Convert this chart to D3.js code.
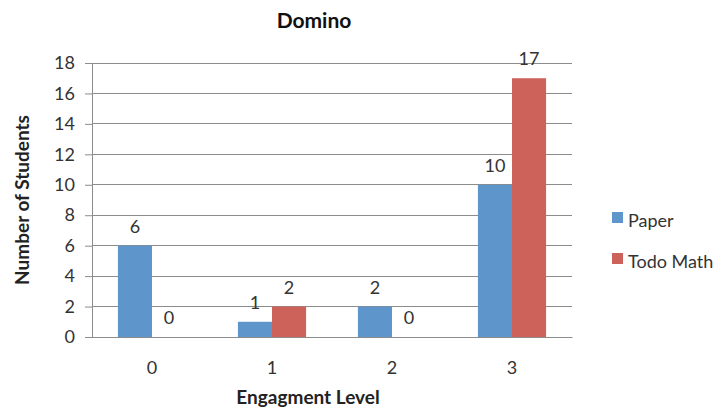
<!DOCTYPE html>
<html>
<head>
<meta charset="utf-8">
<script src="https://cdn.jsdelivr.net/npm/d3@7"></script>
<style>
  html, body { margin: 0; padding: 0; background: #fff; }
  svg text { font-family: Lato, "Open Sans", sans-serif; }
</style>
</head>
<body>
<svg id="chart" width="725" height="411"></svg>
<script>
// Engagement level counts for the Domino activity
const categories = ["0", "1", "2", "3"];
const seriesNames = ["Paper", "Todo Math"];
const paperValues = [6, 1, 2, 10];
const todoMathValues = [0, 2, 0, 17];
const yTicks = [0, 2, 4, 6, 8, 10, 12, 14, 16, 18];
const seriesColors = ["#5E95CB", "#CD625A"];

const svg = d3.select("#chart");
const margin = { left: 92, right: 153, top: 63, bottom: 74 };
const width = 725 - margin.left - margin.right;
const height = 411 - margin.top - margin.bottom;

const g = svg.append("g").attr("transform", `translate(${margin.left},${margin.top})`);

const x0 = d3.scaleBand().domain(categories).range([0, width]).paddingInner(0).paddingOuter(0);
const x1 = d3.scaleBand().domain(seriesNames).range([0, x0.bandwidth()]).paddingInner(0).paddingOuter(0.76);
const y = d3.scaleLinear().domain([0, 18]).range([height, 0]);

// gridlines
g.append("g")
  .selectAll("line")
  .data(yTicks.filter(d => d > 0))
  .join("line")
  .attr("x1", 0).attr("x2", width)
  .attr("y1", d => y(d)).attr("y2", d => y(d))
  .attr("stroke", "#8c8c8c").attr("stroke-width", 1)
  .attr("shape-rendering", "crispEdges");

// y axis
const yAxis = g.append("g")
  .call(d3.axisLeft(y).tickValues(yTicks).tickSize(7).tickPadding(10));
yAxis.select(".domain").attr("stroke", "#8c8c8c").attr("d", `M0.5,${height}V0`);
yAxis.selectAll(".tick line").attr("stroke", "#8c8c8c");
yAxis.selectAll(".tick text").attr("fill", "#333").style("font-size", "18px");

// x axis
const xAxis = g.append("g")
  .attr("transform", `translate(0,${height})`)
  .call(d3.axisBottom(x0).tickSize(0).tickPadding(24));
xAxis.select(".domain").attr("stroke", "#8c8c8c");
xAxis.selectAll(".tick text").attr("fill", "#333").style("font-size", "18px");

// bars
const rows = categories.map((c, i) => ({
  cat: c,
  vals: [
    { name: seriesNames[0], value: paperValues[i], color: seriesColors[0] },
    { name: seriesNames[1], value: todoMathValues[i], color: seriesColors[1] }
  ]
}));

const groups = g.append("g").selectAll("g")
  .data(rows)
  .join("g")
  .attr("transform", d => `translate(${x0(d.cat)},0)`);

groups.selectAll("rect")
  .data(d => d.vals)
  .join("rect")
  .attr("x", d => x1(d.name))
  .attr("y", d => y(d.value))
  .attr("width", x1.bandwidth())
  .attr("height", d => height - y(d.value))
  .attr("fill", d => d.color);

groups.selectAll("text")
  .data(d => d.vals)
  .join("text")
  .attr("x", d => x1(d.name) + x1.bandwidth() / 2)
  .attr("y", d => y(d.value) - 13)
  .attr("text-anchor", "middle")
  .attr("fill", "#333")
  .style("font-size", "18px")
  .text(d => d.value);

// redraw baseline over bars
g.append("line")
  .attr("x1", 0).attr("x2", width)
  .attr("y1", height + 0.5).attr("y2", height + 0.5)
  .attr("stroke", "#8c8c8c");

// title
svg.append("text")
  .attr("x", 314).attr("y", 28)
  .attr("text-anchor", "middle")
  .attr("fill", "#111")
  .style("font-size", "21px").style("font-weight", "bold")
  .text("Domino");

// axis titles
svg.append("text")
  .attr("x", 308).attr("y", 404)
  .attr("text-anchor", "middle")
  .attr("fill", "#222")
  .style("font-size", "19px").style("font-weight", "bold")
  .text("Engagment Level");

svg.append("text")
  .attr("transform", "translate(29,200) rotate(-90)")
  .attr("text-anchor", "middle")
  .attr("fill", "#222")
  .style("font-size", "19px").style("font-weight", "bold")
  .text("Number of Students");

// legend
const legend = svg.append("g").attr("transform", "translate(612,212)");
const li = legend.selectAll("g")
  .data(seriesNames)
  .join("g")
  .attr("transform", (d, i) => `translate(0,${i * 41})`);
li.append("rect")
  .attr("width", 11).attr("height", 11)
  .attr("fill", (d, i) => seriesColors[i]);
li.append("text")
  .attr("x", 16).attr("y", 15)
  .attr("fill", "#333")
  .style("font-size", "18px")
  .text(d => d);
</script>
</body>
</html>
